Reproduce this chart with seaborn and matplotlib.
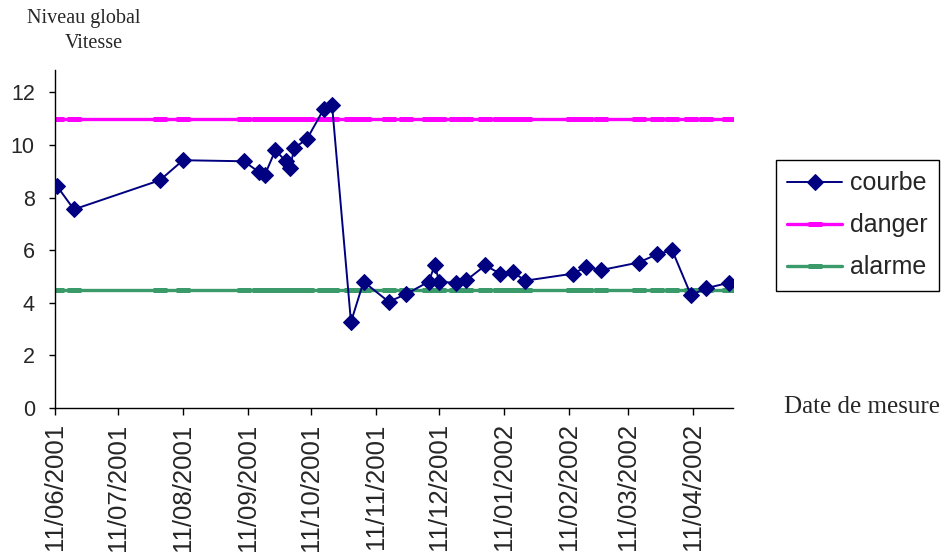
import matplotlib
matplotlib.use("Agg")
import matplotlib.pyplot as plt
import matplotlib.dates as mdates
import pandas as pd
import seaborn as sns

# Measurement dates and overall velocity level
dates = [
    "2001-06-12", "2001-06-20", "2001-07-31", "2001-08-11", "2001-09-09",
    "2001-09-16", "2001-09-19", "2001-09-24", "2001-09-29", "2001-10-01",
    "2001-10-03", "2001-10-09", "2001-10-17", "2001-10-21", "2001-10-30",
    "2001-11-05", "2001-11-17", "2001-11-25", "2001-12-06", "2001-12-09",
    "2001-12-11", "2001-12-19", "2001-12-24", "2002-01-02", "2002-01-09",
    "2002-01-15", "2002-01-21", "2002-02-13", "2002-02-19", "2002-02-26",
    "2002-03-16", "2002-03-25", "2002-04-01", "2002-04-10", "2002-04-17",
    "2002-04-28",
]
courbe = [
    8.43, 7.55, 8.66, 9.42, 9.38,
    8.98, 8.87, 9.80, 9.38, 9.14,
    9.89, 10.22, 11.36, 11.51, 3.27,
    4.80, 4.04, 4.32, 4.80, 5.44,
    4.80, 4.76, 4.86, 5.42, 5.11,
    5.18, 4.84, 5.11, 5.37, 5.24,
    5.53, 5.85, 6.00, 4.29, 4.55,
    4.76,
]
danger_level = 11.0
alarme_level = 4.5

tick_dates = [
    "2001-06-11", "2001-07-11", "2001-08-11", "2001-09-11", "2001-10-11",
    "2001-11-11", "2001-12-11", "2002-01-11", "2002-02-11", "2002-03-11",
    "2002-04-11",
]
y_ticks = [0, 2, 4, 6, 8, 10, 12]

NAVY = "#000080"
MAGENTA = "#FF00FF"
GREEN = "#3A9A6A"

sns.set_style("ticks")
plt.rcParams["font.family"] = ["Liberation Sans", "DejaVu Sans"]

W, H = 952, 556
fig = plt.figure(figsize=(W / 100, H / 100), dpi=100)
ax = fig.add_axes([55 / W, 1 - 408 / H, (733 - 55) / W, (408 - 70) / H])

df = pd.DataFrame({"date": pd.to_datetime(dates), "courbe": courbe})
df["danger"] = danger_level
df["alarme"] = alarme_level

sns.lineplot(data=df, x="date", y="courbe", ax=ax, color=NAVY, lw=1.4,
             marker="D", markersize=8.5, markeredgecolor=NAVY,
             label="courbe", zorder=4)
sns.lineplot(data=df, x="date", y="danger", ax=ax, color=MAGENTA, lw=2.4,
             marker="_", markersize=10, markeredgewidth=3.6,
             markeredgecolor=MAGENTA, label="danger", zorder=2)
sns.lineplot(data=df, x="date", y="alarme", ax=ax, color=GREEN, lw=2.4,
             marker="_", markersize=10, markeredgewidth=3.6,
             markeredgecolor=GREEN, label="alarme", zorder=2)

ax.set_xlim(pd.Timestamp("2001-06-11"), pd.Timestamp("2002-04-30"))
ax.set_ylim(0, 12.85)
ax.set_yticks(y_ticks)
ax.set_yticklabels([str(v) for v in y_ticks], fontsize=15.5)

tick_ts = pd.to_datetime(tick_dates)
ax.set_xticks(mdates.date2num(tick_ts))
ax.set_xticklabels([t.strftime("%d/%m/%Y") for t in tick_ts],
                   rotation=90, fontsize=18.5, va="top", ha="center")

ax.set_xlabel("")
ax.set_ylabel("")
sns.despine(ax=ax)
for side in ("left", "bottom"):
    ax.spines[side].set_color("black")
    ax.spines[side].set_linewidth(1.0)
ax.tick_params(axis="y", direction="out", length=4.5, width=1, color="black", pad=10)
ax.tick_params(axis="x", direction="out", length=5, width=1, color="black", pad=6)

handles, labels = ax.get_legend_handles_labels()
leg = ax.legend(handles, labels, loc="upper left",
                bbox_to_anchor=(776 / W, 1 - 160 / H), bbox_transform=fig.transFigure,
                borderaxespad=0, fontsize=18, frameon=True, fancybox=False,
                edgecolor="black", framealpha=1, handlelength=2.2,
                handletextpad=0.3, labelspacing=0.72, borderpad=0.45)
leg.get_frame().set_linewidth(1.0)

serif = ["Liberation Serif", "DejaVu Serif"]
fig.text(84 / W, 1 - 19 / H, "Niveau global", family=serif, fontsize=14.5,
         ha="center", va="center")
fig.text(94 / W, 1 - 43 / H, "Vitesse", family=serif, fontsize=14.5,
         ha="center", va="center")
fig.text(784 / W, 1 - 407 / H, "Date de mesure", family=serif, fontsize=18,
         ha="left", va="center")

fig.savefig("out.png", dpi=100)
